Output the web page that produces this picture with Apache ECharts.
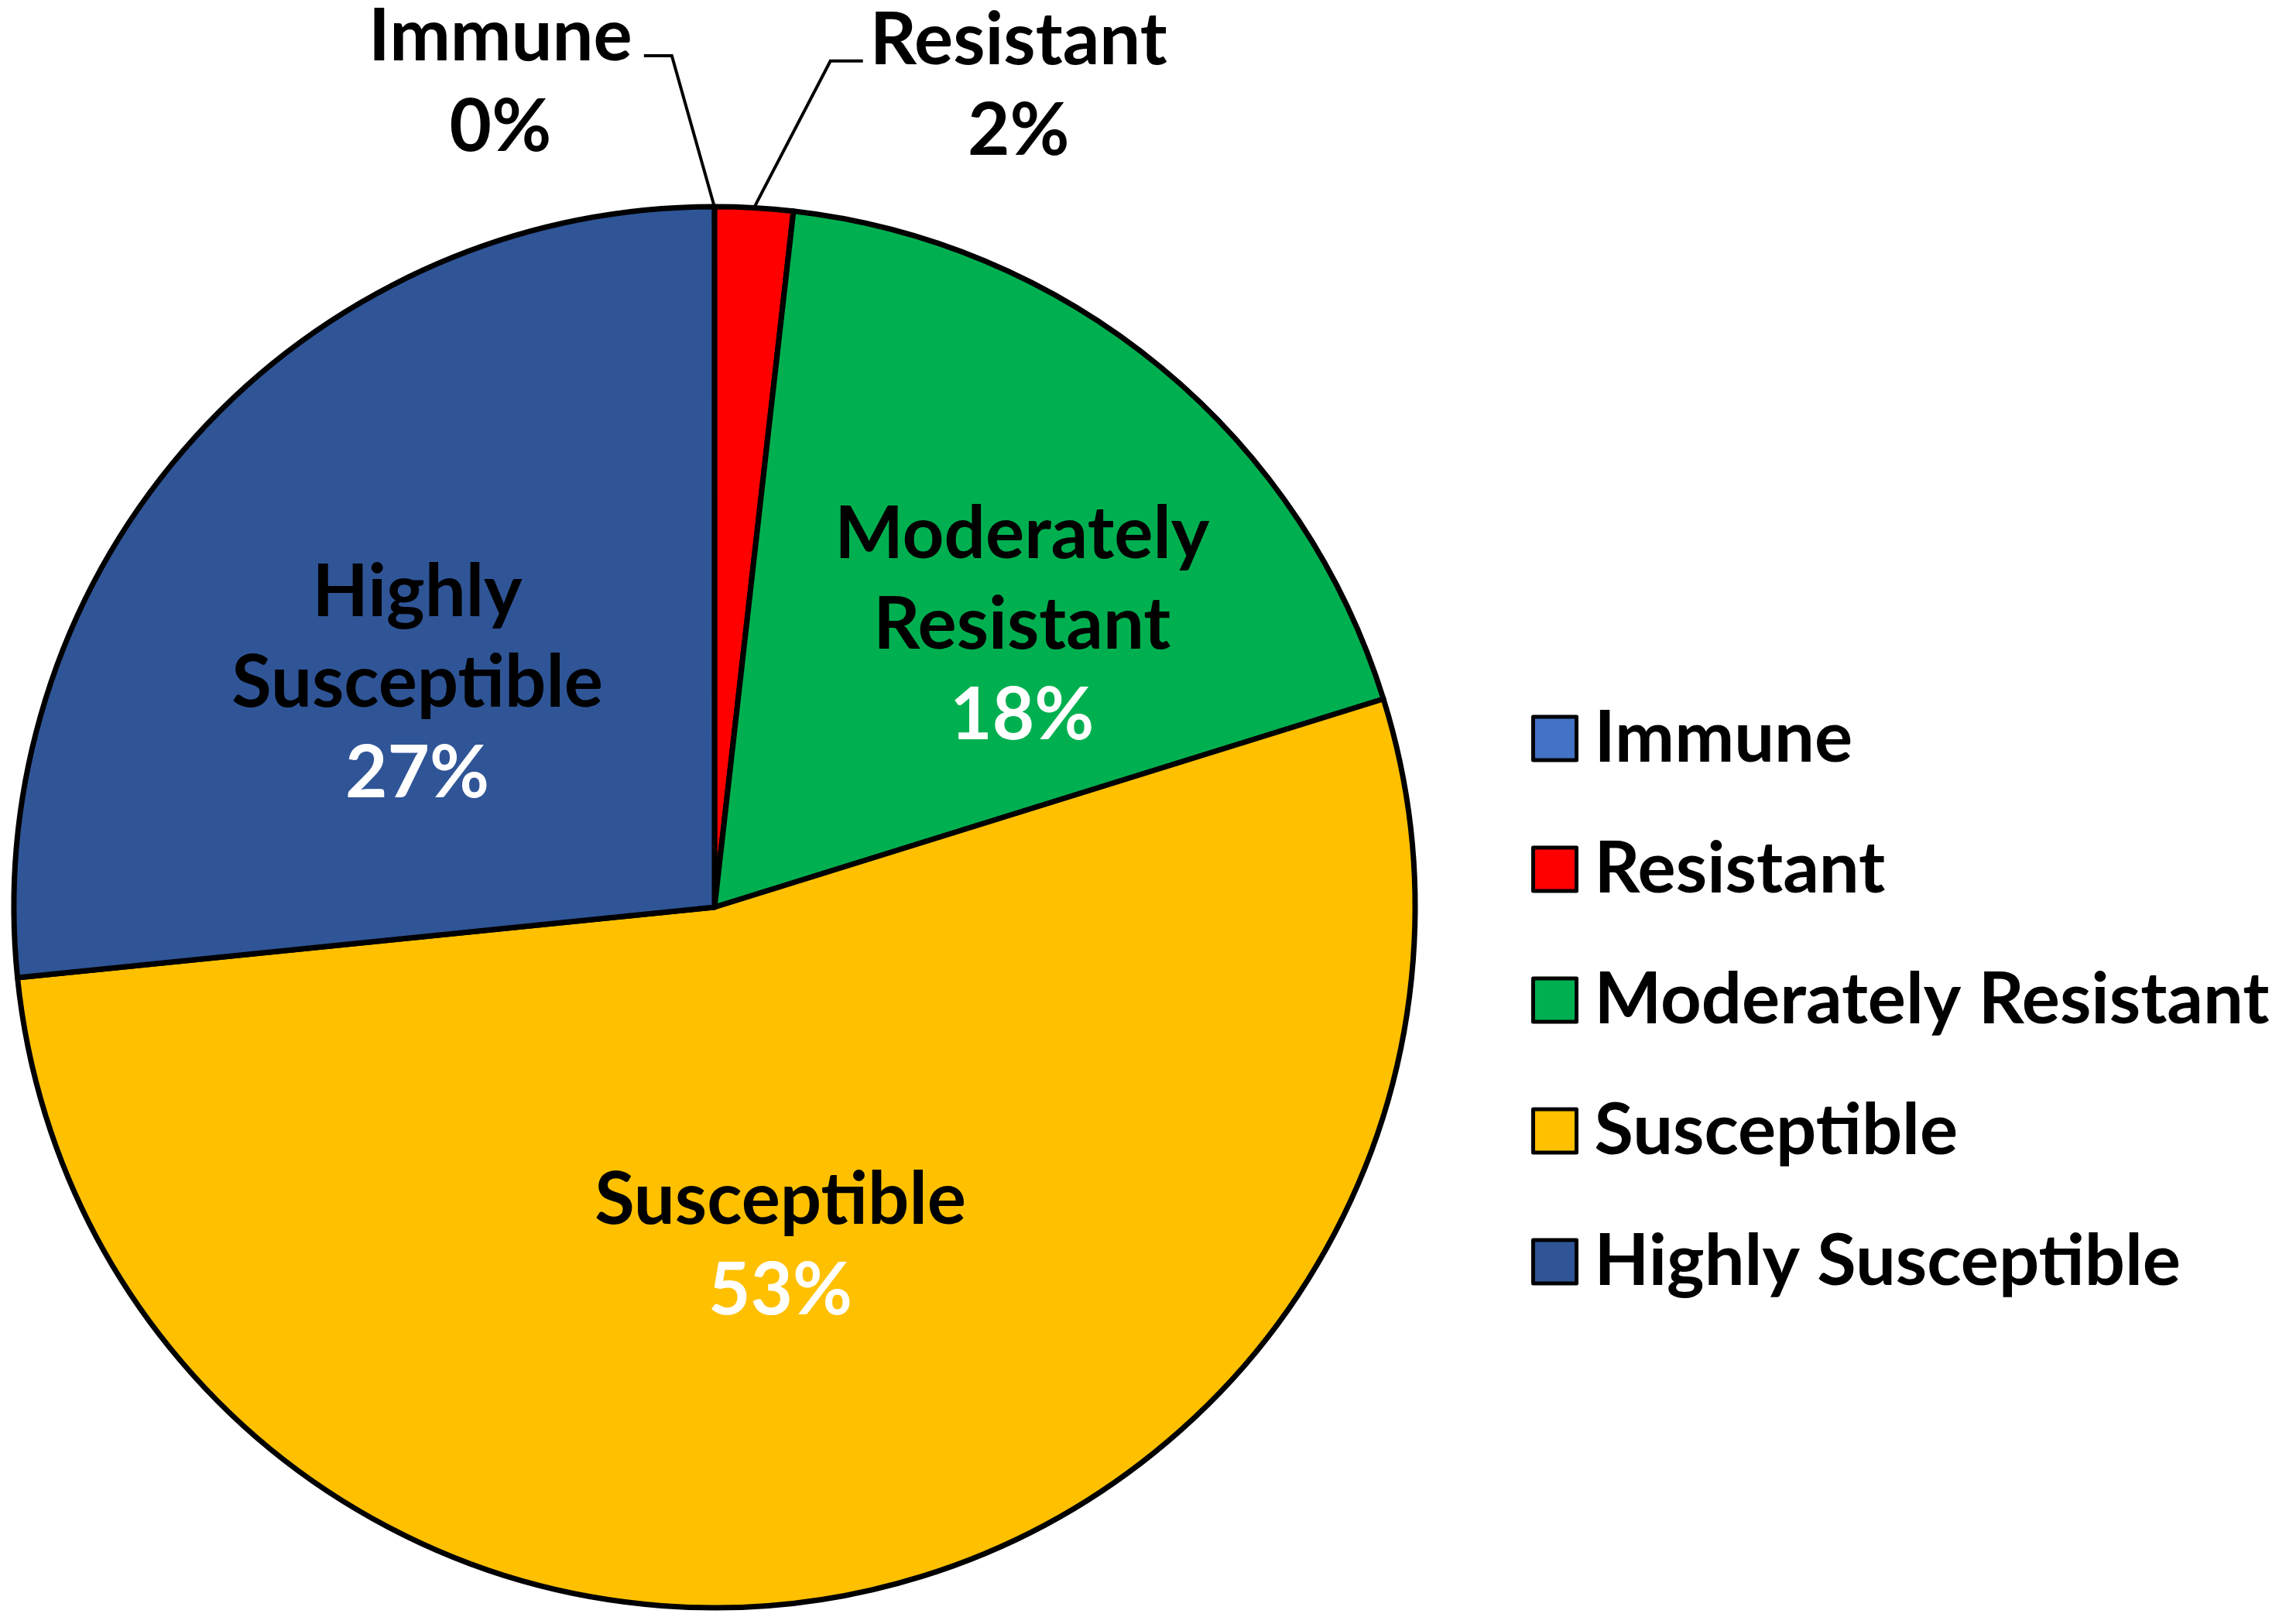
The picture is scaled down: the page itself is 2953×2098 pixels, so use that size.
<!DOCTYPE html>
<html>
<head>
<meta charset="utf-8">
<script src="https://cdn.jsdelivr.net/npm/echarts@6/dist/echarts.min.js"></script>
<style>
  html, body { margin: 0; padding: 0; background: #fff; }
  #chart { width: 2953px; height: 2098px; }
</style>
</head>
<body>
<div id="chart"></div>
<script>
var categories = ['Immune', 'Resistant', 'Moderately Resistant', 'Susceptible', 'Highly Susceptible'];
var labelNames = ['Immune', 'Resistant', 'Moderately\nResistant', 'Susceptible', 'Highly\nSusceptible'];
var values = [0, 1.8, 18.4, 53.2, 26.6];
var colors = ['#4472C4', '#FF0000', '#00B050', '#FFC000', '#2F5597'];

var FONT = 'Lato';

// label placement per slice, tuned by eye against the original
var labelTweaks = [
    {position: 'outside', padding: [68, 10, 0, 0], length: 195, length2: 91, bend: 36},
    {position: 'outside', padding: [64, 0, 0, 4], length: 190, length2: 130, bend: 42},
    {position: 'inside', padding: [0, 0, 26, 214]},
    {position: 'inside', padding: [0, 12, 18, 0]},
    {position: 'inside', padding: [32, 92, 0, 0]}
];

function txt(color) {
    return {fontFamily: FONT, fontWeight: 'bold', fontSize: 94, lineHeight: 117, color: color, align: 'center'};
}

var seriesData = categories.map(function (name, i) {
    var t = labelTweaks[i];
    var item = {
        name: name,
        value: values[i],
        itemStyle: {color: colors[i]},
        label: {position: t.position, padding: t.padding}
    };
    if (t.position === 'outside') {
        item.labelLine = {show: true, length: t.length, length2: t.length2};
    }
    return item;
});

var myChart = echarts.init(document.getElementById('chart'));
var option = {
    backgroundColor: '#fff',
    animation: false,
    legend: {
        orient: 'vertical',
        left: 1973,
        top: 899,
        itemWidth: 56,
        itemHeight: 56,
        itemGap: 69,
        icon: 'rect',
        selectedMode: false,
        itemStyle: {borderColor: '#000', borderWidth: 5},
        textStyle: {
            fontFamily: FONT, fontWeight: 'bold', fontSize: 92, lineHeight: 100,
            color: '#000', padding: [0, 0, 0, 18]
        },
        data: categories
    },
    series: [{
        type: 'pie',
        center: [923, 1172],
        radius: 905,
        startAngle: 90.01,
        clockwise: true,
        avoidLabelOverlap: false,
        percentPrecision: 1,
        emphasis: {disabled: true},
        itemStyle: {borderColor: '#000', borderWidth: 7},
        label: {
            show: true,
            formatter: function (p) {
                var pct = Math.round(p.percent) + '%';
                var inside = labelTweaks[p.dataIndex].position === 'inside';
                return '{n|' + labelNames[p.dataIndex] + '}\n{' + (inside ? 'w' : 'b') + '|' + pct + '}';
            },
            rich: {n: txt('#000'), w: txt('#fff'), b: txt('#000')}
        },
        labelLine: {lineStyle: {color: '#000', width: 4}},
        labelLayout: function (p) {
            var t = labelTweaks[p.dataIndex];
            var pts = p.labelLinePoints;
            if (!t.bend || !pts) return {};
            // excel style leader: slanted first leg, short flat end
            var dir = pts[2][0] < pts[0][0] ? 1 : -1;
            pts[1] = [pts[2][0] + dir * t.bend, pts[2][1]];
            return {labelLinePoints: pts};
        },
        data: seriesData
    }]
};
myChart.setOption(option);
</script>
</body>
</html>
